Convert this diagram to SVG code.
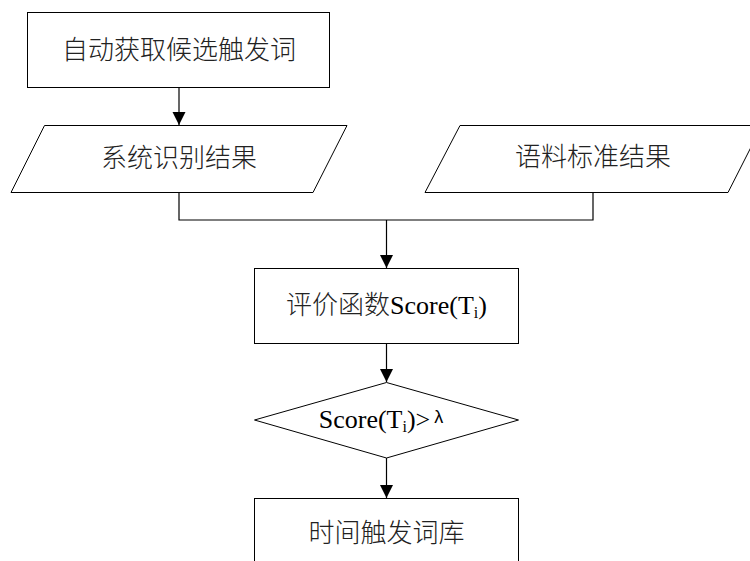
<svg xmlns="http://www.w3.org/2000/svg" width="750" height="561" viewBox="0 0 750 561">
<style>
.shape{fill:#fff;stroke:#000;stroke-width:1}
.line{fill:none;stroke:#000;stroke-width:1.2}
.cjk{font-family:"Noto Sans CJK SC","Liberation Serif",sans-serif;font-size:26px;font-weight:300;fill:#222;text-anchor:middle}
.mix{font-family:"Liberation Serif","Noto Sans CJK SC",serif;font-size:26px;fill:#000;text-anchor:middle}
</style>
<defs>
<marker id="ah" markerWidth="13" markerHeight="16" refX="13" refY="8" orient="auto" markerUnits="userSpaceOnUse">
<path d="M0,1.5 L13,8 L0,14.5 Z" fill="#000"/>
</marker>
</defs>
<rect width="750" height="561" fill="#fff"/>
<g id="connectors">
<line class="line" x1="179" y1="87" x2="179" y2="125" marker-end="url(#ah)"/>
<polyline class="line" points="179,192 179,220 593,220 593,192"/>
<line class="line" x1="386.5" y1="220" x2="386.5" y2="268" marker-end="url(#ah)"/>
<line class="line" x1="386.5" y1="343" x2="386.5" y2="382" marker-end="url(#ah)"/>
<line class="line" x1="386.5" y1="458" x2="386.5" y2="498" marker-end="url(#ah)"/>
</g>
<g id="n1">
<rect class="shape" x="27.5" y="12.5" width="302" height="75"/>
<text class="cjk" x="179" y="59">自动获取候选触发词</text>
</g>
<g id="n2">
<polygon class="shape" points="44.5,125.5 347,125.5 313,192.5 11,192.5"/>
<text class="cjk" x="179" y="166.5">系统识别结果</text>
</g>
<g id="n3">
<polygon class="shape" points="460,125.5 762,125.5 728,192.5 425,192.5"/>
<text class="cjk" x="593" y="165.5">语料标准结果</text>
</g>
<g id="n4">
<rect class="shape" x="254.5" y="268.5" width="264" height="75"/>
<text class="mix" x="386.5" y="314"><tspan font-family="Noto Sans CJK SC" font-size="26" font-weight="300" fill="#222">评价函数</tspan>Score(T<tspan font-size="16" dy="4">i</tspan><tspan dy="-4">)</tspan></text>
</g>
<g id="n5">
<polygon class="shape" points="386.5,382.5 518.5,420 386.5,458 254.5,420"/>
<text class="mix" x="381" y="428" text-anchor="middle">Score(T<tspan font-size="16" dy="4">i</tspan><tspan dy="-4">)&gt;</tspan><tspan font-family="Liberation Sans" font-size="18" dx="4" dy="-5">λ</tspan></text>
</g>
<g id="n6">
<rect class="shape" x="254.5" y="498.5" width="264" height="80"/>
<text class="cjk" x="386.5" y="542">时间触发词库</text>
</g>
</svg>
